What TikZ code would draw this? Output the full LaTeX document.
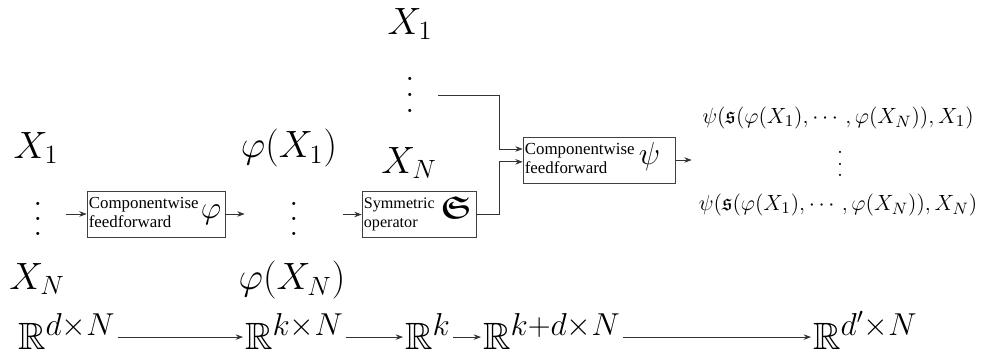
\documentclass[tikz,border=0pt]{standalone}
\usepackage{amsmath,amssymb}
\usepackage{fontspec}
\newfontfamily\boxfont{Liberation Serif}
\usetikzlibrary{arrows.meta,positioning}
\newcommand{\colvdots}[1]{\vbox{\baselineskip=#1\lineskiplimit=0pt\hbox{.}\hbox{.}\hbox{.}}}
\newcommand{\boxlabel}[4]{\makebox[#1]{\begin{tabular}{@{}l@{}}#2\\#3\end{tabular}\hfill#4}}
\newcommand{\bigsup}[1]{^{\text{\LARGE$#1$}}}

\begin{document}
\begin{tikzpicture}[x=0.545pt,y=-0.545pt,
  ffbox/.style={draw=black!75,inner xsep=1pt,inner ysep=0pt,minimum height=25pt,
                font=\boxfont\fontsize{9.2}{10.4}\selectfont},
  arrow/.style={-{Stealth[length=4pt,width=3pt]},draw=black!80},
  bigmath/.style={font=\huge,inner sep=0pt},
  dotcol/.style={font=\huge,inner sep=0pt},
  outmath/.style={font=\fontsize{13}{15}\selectfont,inner sep=0pt},
  space/.style={font=\huge,inner xsep=1pt,inner ysep=0pt,anchor=base west}
]
\useasboundingbox (0,0) rectangle (995,354);
% inputs
\node[bigmath] (x1) at (36,148) {$X_1$};
\node[dotcol,minimum width=30.5pt] (xdots) at (38,219) {\colvdots{8.2pt}};
\node[bigmath] (xn) at (37,279) {$X_N$};
% phi stage
\node[ffbox] (ffphi) at (156,214)
  {\boxlabel{73.2pt}{Componentwise}{feedforward}{{\LARGE$\varphi$}\hspace*{1pt}}};
\node[bigmath] (phi1) at (289,148) {$\varphi(X_1)$};
\node[dotcol,minimum width=53.4pt] (phidots) at (294,219) {\colvdots{8.2pt}};
\node[bigmath] (phin) at (292,280) {$\varphi(X_N)$};
% symmetric operator
\node[ffbox,font=\boxfont\fontsize{8.8}{10.4}\selectfont] (symop) at (419,214.5)
  {\boxlabel{60.1pt}{Symmetric}{operator}{{\LARGE$\boldsymbol{\mathfrak{S}}$}\hspace*{1.5pt}}};
% skip inputs
\node[bigmath] (topx1) at (410,24) {$X_1$};
\node[dotcol,minimum width=30.5pt] (topdots) at (410,95) {\colvdots{8.7pt}};
\node[bigmath] (topxn) at (409,163) {$X_N$};
% psi stage
\node[ffbox] (ffpsi) at (599,160)
  {\boxlabel{80.8pt}{Componentwise}{feedforward}{{\LARGE$\psi$}\hspace*{7pt}}};
% outputs
\node[outmath] (out1) at (838,118) {$\psi(\mathfrak{s}(\varphi(X_1),\cdots,\varphi(X_N)),X_1)$};
\node[font=\large,inner sep=0pt,minimum width=161.3pt] (outdots) at (840,164) {\colvdots{6.3pt}};
\node[outmath] (outn) at (838,205) {$\psi(\mathfrak{s}(\varphi(X_1),\cdots,\varphi(X_N)),X_N)$};
% spaces
\node[space] (rdn) at (16,349) {$\mathbb{R}\bigsup{d{\times}N}$};
\node[space] (rkn) at (243,349) {$\mathbb{R}\bigsup{k{\times}N}$};
\node[space] (rk) at (403,349) {$\mathbb{R}\bigsup{k}$};
\node[space] (rkdn) at (481,349) {$\mathbb{R}\bigsup{k{+}d{\times}N}$};
\node[space] (rdpn) at (811,349) {$\mathbb{R}\bigsup{d'{\times}N}$};

\draw[arrow] (xdots.east |- ffphi.west) -- (ffphi.west);
\draw[arrow] (ffphi.east) -- (phidots.west |- ffphi.east);
\draw[arrow] (phidots.east |- symop.west) -- (symop.west);
\draw[arrow] (topdots.east) -- ++(61,0) |- ([yshift=6pt]ffpsi.west);
\draw[arrow] (symop.east) -- ++(23,0) |- ([yshift=-1pt]ffpsi.west);
\draw[arrow] (ffpsi.east) -- (outdots.west |- ffpsi.east);
\draw[arrow] ([yshift=6.5pt]rdn.base east) -- ([yshift=6.5pt]rkn.base west);
\draw[arrow] ([yshift=6.5pt]rkn.base east) -- ([yshift=6.5pt]rk.base west);
\draw[arrow] ([yshift=6.5pt]rk.base east) -- ([yshift=6.5pt]rkdn.base west);
\draw[arrow] ([yshift=6.5pt]rkdn.base east) -- ([yshift=6.5pt]rdpn.base west);
\end{tikzpicture}
\end{document}
